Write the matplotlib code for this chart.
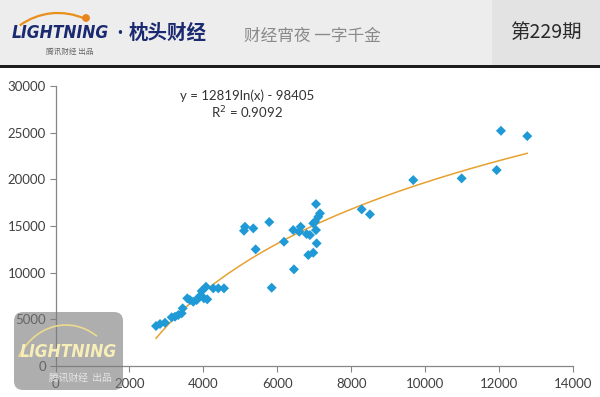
import numpy as np
import matplotlib
matplotlib.use("Agg")
import matplotlib.pyplot as plt
from matplotlib.patches import Rectangle, FancyBboxPatch, Arc, Circle

plt.rcParams['font.family'] = ['Lato', 'Noto Sans CJK SC', 'DejaVu Sans']

# 散布図のデータ
x_vals = [2719, 2827, 2963, 3143, 3232, 3322, 3414, 3441, 3565, 3638,
          3727, 3820, 3890, 3955, 4071, 4017, 4106, 4268, 4404, 4558,
          5126, 5099, 5351, 5415, 5783, 5848, 6181, 6451, 6432, 6632,
          6595, 6795, 6884, 7047, 7047, 7065, 6838, 6974, 7019, 7109,
          7155, 6974, 8283, 8507, 9678, 10988, 11935, 12051, 12763]
y_vals = [4284, 4498, 4637, 5216, 5280, 5462, 5644, 6180, 7251, 7069,
          6886, 7069, 7422, 8033, 8493, 7251, 7144, 8322, 8322, 8322,
          14919, 14491, 14748, 12499, 15422, 8386, 13312, 10356, 14566, 14919,
          14384, 14137, 14030, 14566, 17350, 13141, 11888, 12134, 15455, 15990,
          16354, 15283, 16782, 16247, 19921, 20103, 20992, 25201, 24633]

# 対数近似の係数
coef_a = 12819
coef_b = -98405
r2 = 0.9092

x_ticks = [0, 2000, 4000, 6000, 8000, 10000, 12000, 14000]
y_ticks = [0, 5000, 10000, 15000, 20000, 25000, 30000]

fig = plt.figure(figsize=(6.0, 3.97), dpi=100)
fig.patch.set_facecolor('white')

# ヘッダー
hx = fig.add_axes([0, 1 - 68 / 397, 1, 68 / 397])
hx.set_xlim(0, 600)
hx.set_ylim(68, 0)
hx.axis('off')
hx.add_patch(Rectangle((0, 0), 600, 65, facecolor='#ededed', edgecolor='none', zorder=0))
hx.add_patch(Rectangle((492, 0), 108, 65, facecolor='#e3e3e3', edgecolor='none', zorder=0))
hx.add_patch(Rectangle((0, 65), 600, 2.5, facecolor='#1e1e1e', edgecolor='none', zorder=1))
hx.add_patch(Arc((58, 78), 130, 130, theta1=234, theta2=294, color='#e8901a', lw=1.6, zorder=2))
hx.add_patch(Circle((86, 18), 3.2, color='#e8841a', zorder=2))
hx.text(12, 33, 'LIGHTNING', fontsize=12.5, fontweight='heavy', style='italic',
        family='DejaVu Sans', fontstretch='condensed', color='#1b2a70',
        va='center', ha='left', zorder=3)
hx.text(70, 52, '腾讯财经 出品', fontsize=5.5, color='#666666', va='center', ha='center',
        family=['Noto Sans CJK SC'], zorder=3)
hx.text(120, 33, '·', fontsize=13, color='#1b2a70', va='center', ha='center',
        fontweight='bold', zorder=3)
hx.text(129, 33, '枕头财经', fontsize=14, fontweight='bold', color='#1b2a70',
        va='center', ha='left', family=['Noto Sans CJK SC'], zorder=3)
hx.text(244, 36, '财经宵夜 一字千金', fontsize=12, color='#8a8a8a', style='italic',
        va='center', ha='left', family=['Noto Sans CJK SC'], zorder=3)
hx.text(546, 32, '第229期', fontsize=14, color='#2a2a2a', va='center', ha='center',
        family=['Noto Sans CJK SC', 'DejaVu Sans'], zorder=3)

# 散布図本体
ax = fig.add_axes([55.5 / 600, 1 - 366 / 397, 517.5 / 600, 280 / 397])
ax.scatter(x_vals, y_vals, marker='D', s=26, color='#1f9ad6', edgecolors='none', zorder=3)

xs = np.linspace(min(x_vals), max(x_vals), 200)
ax.plot(xs, coef_a * np.log(xs) + coef_b, color='#e8a030', lw=1.1, zorder=2)

ax.set_xlim(0, 14000)
ax.set_ylim(0, 30000)
ax.set_xticks(x_ticks)
ax.set_yticks(y_ticks)
ax.tick_params(axis='both', direction='out', length=4, width=0.8, color='#868686',
               labelsize=9.5, labelcolor='#404040', pad=3)
ax.tick_params(axis='x', pad=5)
for side in ['top', 'right']:
    ax.spines[side].set_visible(False)
for side in ['left', 'bottom']:
    ax.spines[side].set_color('#868686')
    ax.spines[side].set_linewidth(0.9)

ax.text(5180, 28930, 'y = %dln(x) - %d' % (coef_a, -coef_b), fontsize=9.5,
        color='#333333', ha='center', va='center')
ax.text(5180, 27150, 'R$^2$ = %.4f' % r2, fontsize=9.5,
        color='#333333', ha='center', va='center')

# 左下の透かし（半透明）
wx = fig.add_axes([0, 0, 1, 1], facecolor='none')
wx.set_xlim(0, 600)
wx.set_ylim(397, 0)
wx.axis('off')
wx.add_patch(FancyBboxPatch((14, 312), 109, 78, boxstyle='round,pad=0,rounding_size=9',
                            facecolor='#7c7c7c', edgecolor='none', alpha=0.62))
wx.add_patch(Arc((66, 390), 110, 130, theta1=215, theta2=300, color='#f3e08a', lw=1.2, alpha=0.9))
wx.text(20, 352, 'LIGHTNING', fontsize=12.5, fontweight='heavy', style='italic',
        family='DejaVu Sans', fontstretch='condensed', color='#f7eeb8', va='center', ha='left')
wx.text(80, 378, '腾讯财经  出品', fontsize=7, color='#e6e6e6', va='center', ha='center',
        family=['Noto Sans CJK SC'])

fig.savefig('out.png', dpi=100)
